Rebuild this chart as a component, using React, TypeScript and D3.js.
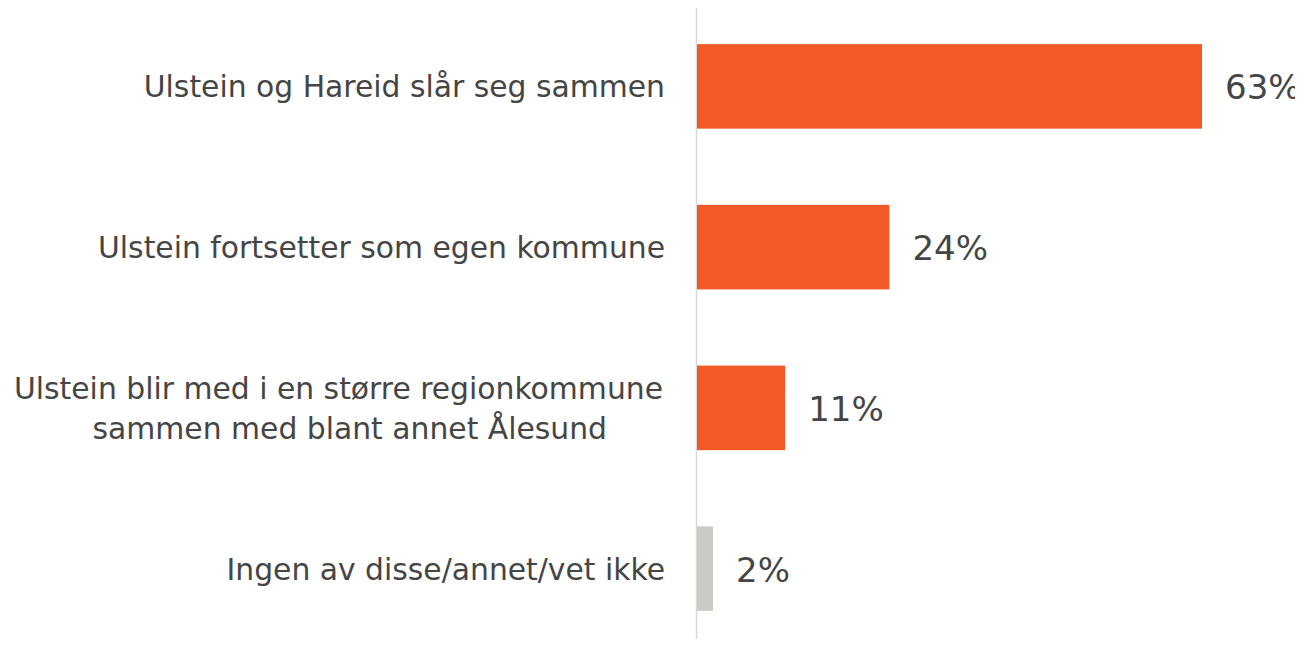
import React from "react";
import * as d3 from "d3";

const categories: string[][] = [
  ["Ulstein og Hareid slår seg sammen"],
  ["Ulstein fortsetter som egen kommune"],
  ["Ulstein blir med i en større regionkommune", "sammen med blant annet Ålesund"],
  ["Ingen av disse/annet/vet ikke"],
];
const values: number[] = [63, 24, 11, 2];
const valueLabels: string[] = ["63%", "24%", "11%", "2%"];
const barColors: string[] = ["#F15A27", "#F15A27", "#F15A27", "#CBCBC6"];

const W = 1303;
const H = 647;
const AXIS_X = 697;
const FONT = "'DejaVu Sans', sans-serif";
const TEXT = "#454545";

export default function App() {
  const idx = categories.map((_, i) => String(i));
  const y = d3
    .scaleBand<string>()
    .domain(idx)
    .range([6, 649])
    .paddingInner(0.474)
    .paddingOuter(0.237);
  const x = d3.scaleLinear().domain([0, 63]).range([AXIS_X, 1202]);

  const lineOffsets = [[0], [0], [-2, -58], [0]];

  return (
    <div style={{ margin: -8 }}>
      <svg width={W} height={H} style={{ display: "block", background: "#fff" }}>
        <line x1={696.5} x2={696.5} y1={6} y2={H} stroke="#D9D9D9" strokeWidth={1.5} />
        {values.map((v, i) => {
          const y0 = y(String(i))!;
          const bh = y.bandwidth();
          const cy = y0 + bh / 2;
          const lines = categories[i];
          const lh = 39.5;
          const firstBase = cy + 11 - ((lines.length - 1) * lh) / 2;
          return (
            <g key={i}>
              <rect x={x(0)} y={y0} width={x(v) - x(0)} height={bh} fill={barColors[i]} />
              <text
                x={x(v) + 23}
                y={cy + 13}
                fontFamily={FONT}
                fontSize={34}
                fill={TEXT}
                textAnchor="start"
              >
                {valueLabels[i]}
              </text>
              <text fontFamily={FONT} fontSize={29.8} fill={TEXT} textAnchor="end">
                {lines.map((ln, j) => (
                  <tspan key={j} x={665 + lineOffsets[i][j]} y={firstBase + j * lh}>
                    {ln}
                  </tspan>
                ))}
              </text>
            </g>
          );
        })}
      </svg>
    </div>
  );
}
